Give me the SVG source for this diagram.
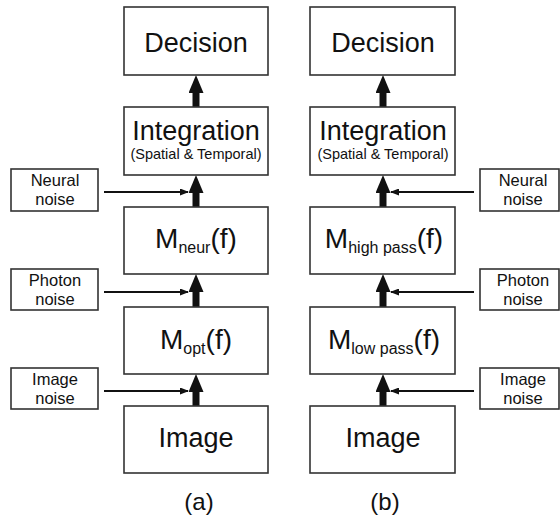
<svg xmlns="http://www.w3.org/2000/svg" width="560" height="519" viewBox="0 0 560 519">
<defs>
<marker id="big" markerUnits="userSpaceOnUse" markerWidth="18" markerHeight="15" refX="7" refY="7.5" orient="auto" viewBox="0 0 18 15">
<path d="M0,0 L18,7.5 L0,15 z" fill="#111"/>
</marker>
<marker id="small" markerUnits="userSpaceOnUse" markerWidth="9" markerHeight="7" refX="8" refY="3.5" orient="auto" viewBox="0 0 9 7">
<path d="M0,0 L9,3.5 L0,7 z" fill="#111"/>
</marker>
<style>
.box{fill:#fff;stroke:#333;stroke-width:1.6}
.t{font-family:"Liberation Sans",Arial,sans-serif;fill:#111;text-anchor:middle}
.big{font-size:27px}
.sub{font-size:14.5px}
.n{font-size:16.5px}
.m{font-size:28px}
.ms{font-size:16px}
.thick{stroke:#111;stroke-width:7;marker-end:url(#big)}
.thin{stroke:#111;stroke-width:2;marker-end:url(#small)}
</style>
</defs>
<rect width="560" height="519" fill="#fff"/>
<g id="connectors">
<line class="thick" x1="196" y1="107" x2="196" y2="86"/>
<line class="thick" x1="196" y1="207" x2="196" y2="186"/>
<line class="thick" x1="196" y1="307" x2="196" y2="285"/>
<line class="thick" x1="196" y1="406" x2="196" y2="385"/>
<line class="thick" x1="383" y1="107" x2="383" y2="86"/>
<line class="thick" x1="383" y1="207" x2="383" y2="186"/>
<line class="thick" x1="383" y1="307" x2="383" y2="285"/>
<line class="thick" x1="383" y1="406" x2="383" y2="385"/>
<line class="thin" x1="104" y1="192" x2="188" y2="192"/>
<line class="thin" x1="104" y1="292" x2="188" y2="292"/>
<line class="thin" x1="104" y1="391" x2="188" y2="391"/>
<line class="thin" x1="474" y1="192" x2="391" y2="192"/>
<line class="thin" x1="474" y1="292" x2="391" y2="292"/>
<line class="thin" x1="474" y1="391" x2="391" y2="391"/>
</g>
<g id="a-decision"><rect class="box" x="124" y="7" width="144" height="68"/><text class="t big" x="196" y="52">Decision</text></g>
<g id="a-integration"><rect class="box" x="124" y="107" width="144" height="68"/><text class="t big" x="196" y="140">Integration</text><text class="t sub" x="196" y="159">(Spatial &amp; Temporal)</text></g>
<g id="a-mneur"><rect class="box" x="124" y="207" width="144" height="67"/><text class="t m" x="196" y="248">M<tspan class="ms" dy="5">neur</tspan><tspan dy="-5">(f)</tspan></text></g>
<g id="a-mopt"><rect class="box" x="124" y="307" width="144" height="67"/><text class="t m" x="196" y="349">M<tspan class="ms" dy="5">opt</tspan><tspan dy="-5">(f)</tspan></text></g>
<g id="a-image"><rect class="box" x="124" y="406" width="144" height="67"/><text class="t big" x="196" y="447">Image</text></g>
<g id="a-neural"><rect class="box" x="11" y="169" width="87" height="42"/><text class="t n" x="55" y="186">Neural</text><text class="t n" x="55" y="205">noise</text></g>
<g id="a-photon"><rect class="box" x="11" y="269" width="87" height="41"/><text class="t n" x="55" y="286">Photon</text><text class="t n" x="55" y="305">noise</text></g>
<g id="a-imgnoise"><rect class="box" x="11" y="368" width="87" height="41"/><text class="t n" x="55" y="385">Image</text><text class="t n" x="55" y="404">noise</text></g>
<g id="b-decision"><rect class="box" x="310" y="7" width="145" height="68"/><text class="t big" x="383" y="52">Decision</text></g>
<g id="b-integration"><rect class="box" x="310" y="107" width="145" height="68"/><text class="t big" x="383" y="140">Integration</text><text class="t sub" x="383" y="159">(Spatial &amp; Temporal)</text></g>
<g id="b-mhigh"><rect class="box" x="310" y="207" width="145" height="67"/><text class="t m" x="384" y="248">M<tspan class="ms" dy="5">high pass</tspan><tspan dy="-5">(f)</tspan></text></g>
<g id="b-mlow"><rect class="box" x="310" y="307" width="145" height="67"/><text class="t m" x="384" y="349">M<tspan class="ms" dy="5">low pass</tspan><tspan dy="-5">(f)</tspan></text></g>
<g id="b-image"><rect class="box" x="310" y="406" width="145" height="67"/><text class="t big" x="383" y="447">Image</text></g>
<g id="b-neural"><rect class="box" x="480" y="169" width="79" height="42"/><text class="t n" x="523" y="186">Neural</text><text class="t n" x="523" y="205">noise</text></g>
<g id="b-photon"><rect class="box" x="480" y="269" width="79" height="41"/><text class="t n" x="523" y="286">Photon</text><text class="t n" x="523" y="305">noise</text></g>
<g id="b-imgnoise"><rect class="box" x="480" y="368" width="79" height="41"/><text class="t n" x="523" y="385">Image</text><text class="t n" x="523" y="404">noise</text></g>
<g id="labels"><text class="t" style="font-size:24px" x="199" y="510">(a)</text><text class="t" style="font-size:24px" x="385" y="510">(b)</text></g>
</svg>
